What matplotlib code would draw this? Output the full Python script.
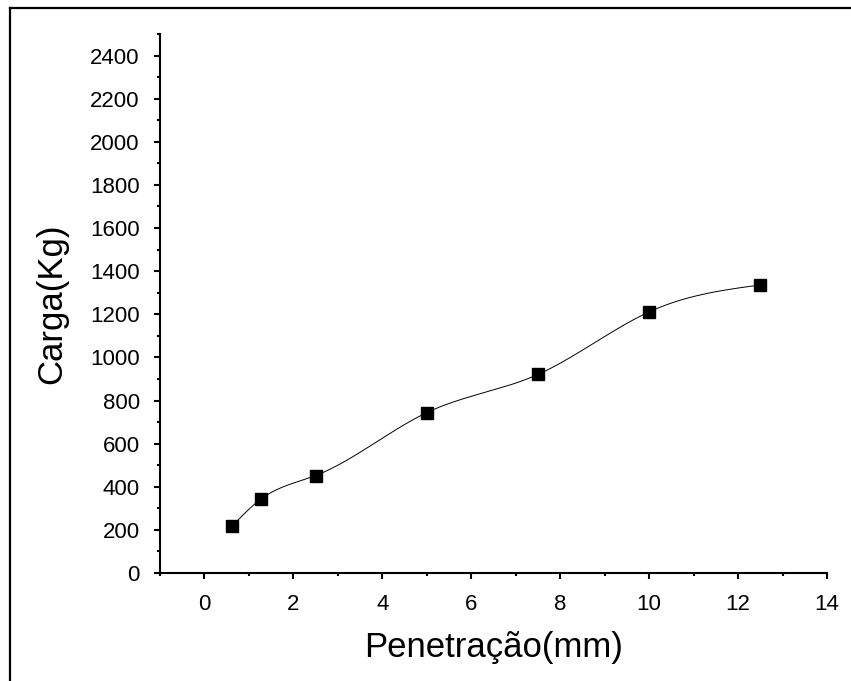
import numpy as np
import matplotlib.pyplot as plt
from matplotlib.lines import Line2D
from matplotlib.ticker import MultipleLocator

plt.rcParams['font.family'] = ['Liberation Sans', 'DejaVu Sans']

penetracao = [0.63, 1.27, 2.5, 5.0, 7.5, 10.0, 12.5]
carga = [219, 343, 452, 744, 921, 1211, 1336]

def spline_natural(x, y, xs):
    # spline cubica natural, como a ligacao "Spline" do Origin
    x = np.asarray(x, float)
    y = np.asarray(y, float)
    n = len(x)
    h = np.diff(x)
    A = np.zeros((n, n))
    b = np.zeros(n)
    A[0, 0] = 1
    A[-1, -1] = 1
    for i in range(1, n - 1):
        A[i, i - 1] = h[i - 1]
        A[i, i] = 2 * (h[i - 1] + h[i])
        A[i, i + 1] = h[i]
        b[i] = 3 * ((y[i + 1] - y[i]) / h[i] - (y[i] - y[i - 1]) / h[i - 1])
    c = np.linalg.solve(A, b)
    out = np.empty_like(xs)
    for k, t in enumerate(xs):
        i = min(max(np.searchsorted(x, t) - 1, 0), n - 2)
        d = (c[i + 1] - c[i]) / (3 * h[i])
        bb = (y[i + 1] - y[i]) / h[i] - h[i] * (2 * c[i] + c[i + 1]) / 3
        dt = t - x[i]
        out[k] = y[i] + bb * dt + c[i] * dt**2 + d * dt**3
    return out

fig = plt.figure(figsize=(8.51, 6.81), dpi=100)
ax = fig.add_axes([160 / 851, 1 - 573 / 681, (827 - 160) / 851, (573 - 34) / 681])

xs = np.linspace(penetracao[0], penetracao[-1], 400)
ax.plot(xs, spline_natural(penetracao, carga, xs), color='k', lw=0.7)
ax.plot(penetracao, carga, 's', color='k', ms=8.5)

ax.set_xlim(-1, 14)
ax.set_ylim(0, 2500)
ax.xaxis.set_major_locator(MultipleLocator(2))
ax.xaxis.set_minor_locator(MultipleLocator(1))
ax.yaxis.set_major_locator(MultipleLocator(200))
ax.yaxis.set_minor_locator(MultipleLocator(100))

for lado in ['top', 'right']:
    ax.spines[lado].set_visible(False)
for lado in ['left', 'bottom']:
    ax.spines[lado].set_linewidth(1.5)

ax.tick_params(which='major', direction='out', length=4.5, width=1.5, labelsize=16)
ax.tick_params(which='minor', direction='out', length=2.5, width=1.5)
ax.tick_params(axis='x', which='major', pad=10.5)
ax.tick_params(axis='y', which='major', pad=10)

ax.set_xlabel('Penetração(mm)', fontsize=25, labelpad=12)
ax.set_ylabel('Carga(Kg)', fontsize=25, labelpad=16)

# moldura da figura (so em cima e a esquerda)
fig.add_artist(Line2D([10 / 851, 1], [1 - 8 / 681, 1 - 8 / 681], color='k', lw=1.6))
fig.add_artist(Line2D([10 / 851, 10 / 851], [0, 1 - 8 / 681], color='k', lw=1.6))

fig.savefig('out.png', dpi=100)
